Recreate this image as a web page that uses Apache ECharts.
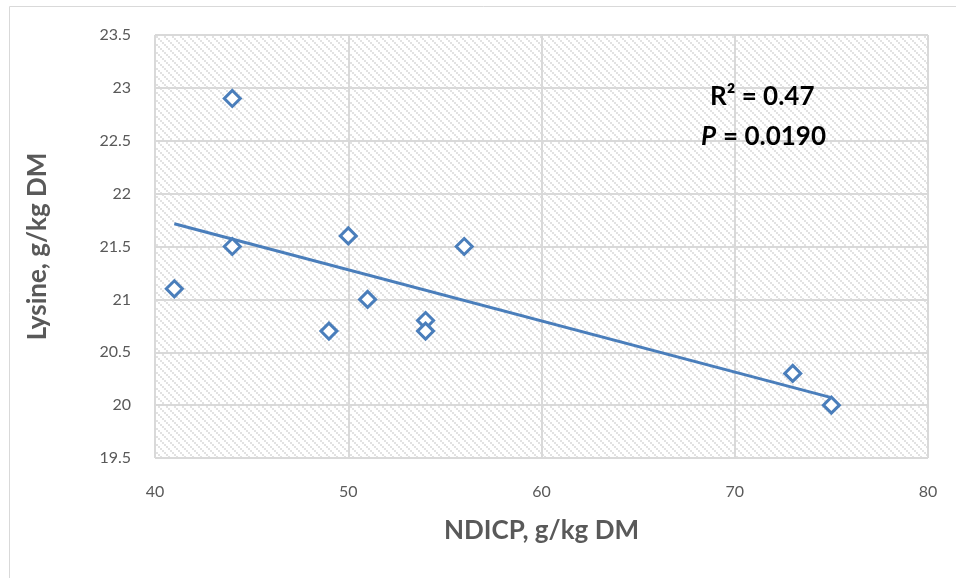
<!DOCTYPE html>
<html><head><meta charset="utf-8">
<script src="https://cdn.jsdelivr.net/npm/echarts@6/dist/echarts.min.js"></script>
<style>html,body{margin:0;padding:0;background:#fff}#c{width:956px;height:578px}</style>
</head><body><div id="c"></div>
<script>
var ndicp = [41, 44, 44, 49, 50, 51, 54, 54, 56, 73, 75];
var lysine = [21.1, 22.9, 21.5, 20.7, 21.6, 21.0, 20.8, 20.7, 21.5, 20.3, 20.0];
var xTicks = [40, 50, 60, 70, 80];
var yTicks = [19.5, 20, 20.5, 21, 21.5, 22, 22.5, 23, 23.5];
var statR2 = '0.47';
var statP = '0.0190';

// least-squares trendline from the data
var n = ndicp.length, mx = 0, my = 0;
for (var i = 0; i < n; i++) { mx += ndicp[i]; my += lysine[i]; }
mx /= n; my /= n;
var sxy = 0, sxx = 0;
for (var i = 0; i < n; i++) { sxy += (ndicp[i]-mx)*(lysine[i]-my); sxx += (ndicp[i]-mx)*(ndicp[i]-mx); }
var slope = sxy/sxx, icpt = my - slope*mx;
var xmin = Math.min.apply(null, ndicp), xmax = Math.max.apply(null, ndicp);
var trend = [[xmin, icpt + slope*xmin], [xmax, icpt + slope*xmax]];

// hatch pattern
var pc = document.createElement('canvas');
pc.width = 8; pc.height = 8;
var pctx = pc.getContext('2d');
pctx.fillStyle = '#ffffff'; pctx.fillRect(0,0,8,8);
pctx.fillStyle = '#e2e2e2';
for (var k = 0; k < 8; k += 2) { pctx.fillRect(k, k, 2, 2); }

var chart = echarts.init(document.getElementById('c'), null, {renderer: 'canvas'});
var font = 'Lato, "Open Sans", sans-serif';
chart.setOption({
  animation: false,
  textStyle: {fontFamily: font},
  graphic: [
    {type: 'rect', z: -10, shape: {x: 9.5, y: 6.5, width: 960, height: 600}, style: {fill: 'none', stroke: '#d9d9d9', lineWidth: 1}},
    {type: 'text', z: 10, left: 710, top: 84, style: {text: 'R² = ' + statR2, font: 'bold 26px ' + font, fill: '#000'}},
    {type: 'text', z: 10, left: 701, top: 124, style: {text: 'P', font: 'italic bold 26px ' + font, fill: '#000'}},
    {type: 'text', z: 10, left: 723, top: 124, style: {text: '= ' + statP, font: 'bold 26px ' + font, fill: '#000'}}
  ],
  grid: {left: 155, right: 28, top: 35, bottom: 120, show: true, backgroundColor: {image: pc, repeat: 'repeat'}, borderWidth: 0},
  xAxis: {
    type: 'value', min: 40, max: 80, interval: 10,
    name: 'NDICP, g/kg DM', nameLocation: 'middle', nameGap: 60,
    nameTextStyle: {fontSize: 26, fontWeight: 'bold', color: '#595959', fontFamily: font},
    axisLine: {show: false}, axisTick: {show: false},
    axisLabel: {fontSize: 16, color: '#595959', margin: 26, fontFamily: font},
    splitLine: {show: true, lineStyle: {color: '#d9d9d9', width: 2}}
  },
  yAxis: {
    type: 'value', min: 19.5, max: 23.5, interval: 0.5,
    name: 'Lysine, g/kg DM', nameLocation: 'middle', nameGap: 104,
    nameTextStyle: {fontSize: 26, fontWeight: 'bold', color: '#595959', fontFamily: font},
    axisLine: {show: false}, axisTick: {show: false},
    axisLabel: {fontSize: 16, color: '#595959', margin: 24, fontFamily: font, formatter: function(v){ return String(+v.toFixed(1)); }},
    splitLine: {show: true, lineStyle: {color: '#d9d9d9', width: 2}}
  },
  series: [
    {type: 'line', data: trend, symbol: 'none', lineStyle: {color: '#4a7ebb', width: 3}, z: 3},
    {type: 'scatter', data: ndicp.map(function(x, i){ return [x, lysine[i]]; }), symbol: 'diamond', symbolSize: [16, 16],
     itemStyle: {color: '#ffffff', borderColor: '#4a7ebb', borderWidth: 3, opacity: 1}, z: 4}
  ]
});
</script></body></html>
